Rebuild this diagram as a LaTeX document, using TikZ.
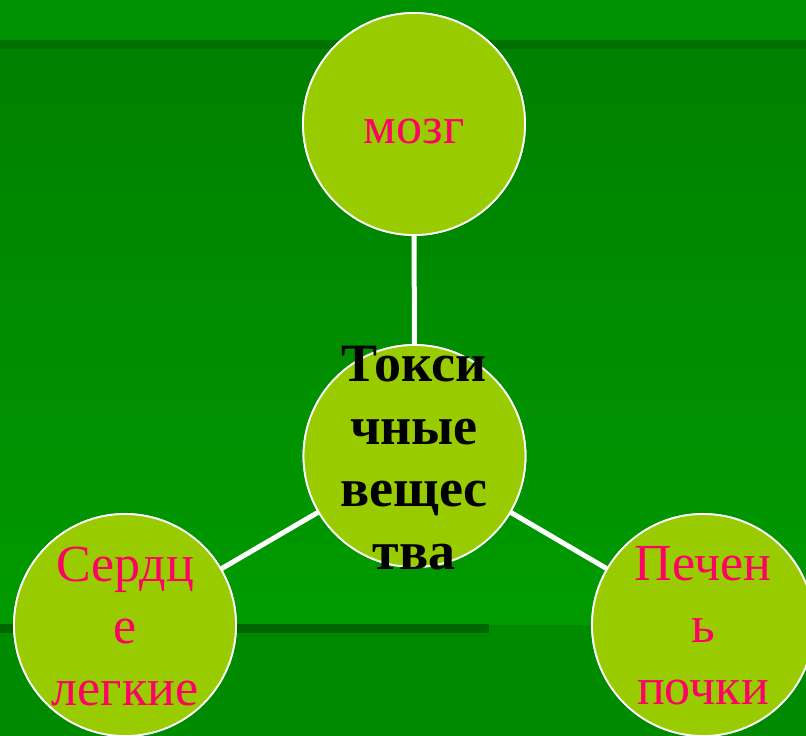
\documentclass[tikz,border=0pt]{standalone}
\usepackage{fontspec}
\setmainfont{Liberation Serif}
\definecolor{bgtop}{HTML}{009200}
\definecolor{bgdark}{HTML}{007000}
\definecolor{bgmidA}{HTML}{008000}
\definecolor{bgmidB}{HTML}{009A00}
\definecolor{bglow}{HTML}{008A00}
\definecolor{bgline}{HTML}{006600}
\definecolor{ballfill}{HTML}{99CC00}
\definecolor{pinktext}{HTML}{FF0066}
\tikzset{
  ball/.style={circle, fill=ballfill, draw=white, line width=1.8pt, minimum size=222pt, inner sep=0pt},
  conn/.style={draw=white, line width=5pt},
  pinklabel/.style={text=pinktext, align=center, inner sep=0pt, font=\fontsize{52}{62}\selectfont},
  mainlabel/.style={text=black, align=center, inner sep=0pt, font=\fontsize{54}{62.5}\selectfont\bfseries}
}
\begin{document}
\begin{tikzpicture}[x=1pt,y=-1pt]
\useasboundingbox (0,0) rectangle (806,736);
% background
\fill[bgtop] (0,0) rectangle (806,40);
\fill[bgdark] (0,40) rectangle (806,49);
\shade[top color=bgmidA, bottom color=bgmidB] (0,49) rectangle (806,625);
\fill[bglow] (0,625) rectangle (806,736);
\fill[bgline] (0,624) rectangle (489,633);
% circles
\node[ball] (top) at (414,124) {};
\node[ball] (mid) at (414.5,456) {};
\node[ball] (left) at (125,625) {};
\node[ball] (right) at (703,625) {};
% connectors
\draw[conn] (mid) -- (top);
\draw[conn] (mid) -- (left);
\draw[conn] (mid) -- (right);
% redraw circles over connectors
\node[ball] at (top.center) {};
\node[ball] at (mid.center) {};
\node[ball] at (left.center) {};
\node[ball] at (right.center) {};
% labels
\node[pinklabel] (ttop) at (414,131.5) {мозг};
\node[pinklabel] (tleft) at (125,627) {Сердц\\е\\легкие};
\node[pinklabel] (tright) at (703,626) {Печен\\ь\\почки};
\node[mainlabel] (tmid) at (414,458) {Токси\\чные\\вещес\\тва};
\end{tikzpicture}
\end{document}
